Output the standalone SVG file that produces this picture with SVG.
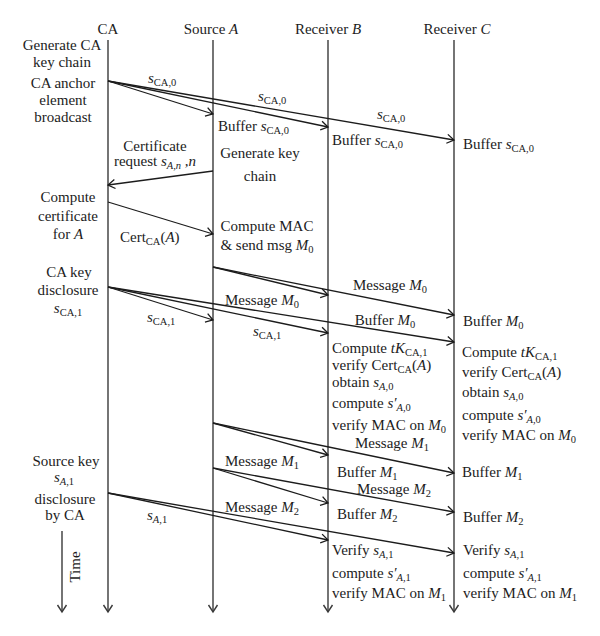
<svg xmlns="http://www.w3.org/2000/svg" width="600" height="636" viewBox="0 0 600 636">
<style>
text { font-family: "Liberation Serif", "Times New Roman", serif; font-size: 15px; fill: #1c1c1c; }
.m { text-anchor: middle; }
.i { font-style: italic; }
.s { font-size: 10.5px; }
.life { stroke: #3a3a3a; stroke-width: 1.4; fill: none; }
.msg { stroke: #1c1c1c; stroke-width: 1.3; fill: none; marker-end: url(#ah); }
</style>
<defs>
<marker id="ah" markerUnits="userSpaceOnUse" markerWidth="12" markerHeight="12" viewBox="-9 -6 12 12" refX="0" refY="0" orient="auto">
<path d="M-7,-4.5 L0,0 L-7,4.5" fill="none" stroke="#1c1c1c" stroke-width="1.3"/>
</marker>
<marker id="ahd" markerUnits="userSpaceOnUse" markerWidth="12" markerHeight="12" viewBox="-9 -6 12 12" refX="0" refY="0" orient="auto">
<path d="M-7,-4.5 L0,0 L-7,4.5" fill="none" stroke="#3a3a3a" stroke-width="1.4"/>
</marker>
</defs>
<rect width="600" height="636" fill="#fff"/>

<g id="ca">
<text class="m" x="108" y="34">CA</text>
<line class="life" x1="108" y1="40" x2="108" y2="612" marker-end="url(#ahd)"/>
</g>
<g id="source-a">
<text class="m" x="211" y="34">Source <tspan class="i">A</tspan></text>
<line class="life" x1="213" y1="40" x2="213" y2="612" marker-end="url(#ahd)"/>
</g>
<g id="receiver-b">
<text class="m" x="328" y="34">Receiver <tspan class="i">B</tspan></text>
<line class="life" x1="328" y1="40" x2="328" y2="612" marker-end="url(#ahd)"/>
</g>
<g id="receiver-c">
<text class="m" x="457" y="34">Receiver <tspan class="i">C</tspan></text>
<line class="life" x1="454" y1="40" x2="454" y2="612" marker-end="url(#ahd)"/>
</g>

<g id="ca-notes">
<text class="m" x="62" y="50">Generate CA</text>
<text class="m" x="62" y="67">key chain</text>
<text class="m" x="63" y="88">CA anchor</text>
<text class="m" x="63" y="105">element</text>
<text class="m" x="63" y="122">broadcast</text>
<text class="m" x="68" y="202">Compute</text>
<text class="m" x="68" y="221">certificate</text>
<text class="m" x="68" y="239">for <tspan class="i">A</tspan></text>
<text class="m" x="69" y="277">CA key</text>
<text class="m" x="68" y="295">disclosure</text>
<text class="m" x="68" y="313"><tspan class="i">s</tspan><tspan class="s" dy="3">CA,1</tspan></text>
<text class="m" x="66" y="466">Source key</text>
<text class="m" x="64" y="482"><tspan class="i">s</tspan><tspan class="s" dy="3"><tspan class="i">A</tspan>,1</tspan></text>
<text class="m" x="65" y="504">disclosure</text>
<text class="m" x="65" y="520">by CA</text>
</g>

<g id="time">
<line class="life" x1="62" y1="531" x2="62" y2="612" marker-end="url(#ahd)"/>
<text class="m" transform="translate(80,567) rotate(-90)">Time</text>
</g>

<g id="source-a-notes">
<text x="218" y="131">Buffer <tspan class="i">s</tspan><tspan class="s" dy="3">CA,0</tspan></text>
<text class="m" x="260" y="158">Generate key</text>
<text class="m" x="260" y="181">chain</text>
<text class="m" x="267" y="231">Compute MAC</text>
<text class="m" x="267" y="250">&amp; send msg <tspan class="i">M</tspan><tspan class="s" dy="3">0</tspan></text>
</g>

<g id="receiver-b-notes">
<text x="332" y="145">Buffer <tspan class="i">s</tspan><tspan class="s" dy="3">CA,0</tspan></text>
<text class="m" x="385" y="325">Buffer <tspan class="i">M</tspan><tspan class="s" dy="3">0</tspan></text>
<text x="332" y="353">Compute <tspan class="i">tK</tspan><tspan class="s" dy="3">CA,1</tspan></text>
<text x="332" y="370">verify Cert<tspan class="s" dy="3">CA</tspan><tspan dy="-3">(</tspan><tspan class="i">A</tspan>)</text>
<text x="332" y="387">obtain <tspan class="i">s</tspan><tspan class="s" dy="3"><tspan class="i">A</tspan>,0</tspan></text>
<text x="332" y="408">compute <tspan class="i">s′</tspan><tspan class="s" dy="3"><tspan class="i">A</tspan>,0</tspan></text>
<text x="332" y="430">verify MAC on <tspan class="i">M</tspan><tspan class="s" dy="3">0</tspan></text>
<text x="337" y="477">Buffer <tspan class="i">M</tspan><tspan class="s" dy="3">1</tspan></text>
<text x="337" y="519">Buffer <tspan class="i">M</tspan><tspan class="s" dy="3">2</tspan></text>
<text x="332" y="555">Verify <tspan class="i">s</tspan><tspan class="s" dy="3"><tspan class="i">A</tspan>,1</tspan></text>
<text x="332" y="578">compute <tspan class="i">s′</tspan><tspan class="s" dy="3"><tspan class="i">A</tspan>,1</tspan></text>
<text x="332" y="598">verify MAC on <tspan class="i">M</tspan><tspan class="s" dy="3">1</tspan></text>
</g>

<g id="receiver-c-notes">
<text x="463" y="149">Buffer <tspan class="i">s</tspan><tspan class="s" dy="3">CA,0</tspan></text>
<text x="463" y="326">Buffer <tspan class="i">M</tspan><tspan class="s" dy="3">0</tspan></text>
<text x="462" y="357">Compute <tspan class="i">tK</tspan><tspan class="s" dy="3">CA,1</tspan></text>
<text x="462" y="377">verify Cert<tspan class="s" dy="3">CA</tspan><tspan dy="-3">(</tspan><tspan class="i">A</tspan>)</text>
<text x="462" y="397">obtain <tspan class="i">s</tspan><tspan class="s" dy="3"><tspan class="i">A</tspan>,0</tspan></text>
<text x="462" y="420">compute <tspan class="i">s′</tspan><tspan class="s" dy="3"><tspan class="i">A</tspan>,0</tspan></text>
<text x="462" y="440">verify MAC on <tspan class="i">M</tspan><tspan class="s" dy="3">0</tspan></text>
<text x="462" y="477">Buffer <tspan class="i">M</tspan><tspan class="s" dy="3">1</tspan></text>
<text x="463" y="522">Buffer <tspan class="i">M</tspan><tspan class="s" dy="3">2</tspan></text>
<text x="463" y="555">Verify <tspan class="i">s</tspan><tspan class="s" dy="3"><tspan class="i">A</tspan>,1</tspan></text>
<text x="463" y="578">compute <tspan class="i">s′</tspan><tspan class="s" dy="3"><tspan class="i">A</tspan>,1</tspan></text>
<text x="463" y="598">verify MAC on <tspan class="i">M</tspan><tspan class="s" dy="3">1</tspan></text>
</g>

<g id="connectors">
<line class="msg" x1="108" y1="81" x2="213" y2="114"/>
<line class="msg" x1="108" y1="81" x2="328" y2="127"/>
<line class="msg" x1="108" y1="81" x2="454" y2="140"/>
<line class="msg" x1="213" y1="171" x2="108" y2="185"/>
<line class="msg" x1="108" y1="202" x2="213" y2="234"/>
<line class="msg" x1="213" y1="267" x2="328" y2="295"/>
<line class="msg" x1="213" y1="267" x2="454" y2="315"/>
<line class="msg" x1="108" y1="287" x2="213" y2="320"/>
<line class="msg" x1="108" y1="287" x2="328" y2="333"/>
<line class="msg" x1="108" y1="287" x2="454" y2="342"/>
<line class="msg" x1="213" y1="423" x2="328" y2="455"/>
<line class="msg" x1="213" y1="423" x2="454" y2="473"/>
<line class="msg" x1="213" y1="468" x2="328" y2="503"/>
<line class="msg" x1="213" y1="468" x2="454" y2="512"/>
<line class="msg" x1="108" y1="493" x2="328" y2="540"/>
<line class="msg" x1="108" y1="493" x2="454" y2="553"/>
</g>

<g id="connector-labels">
<text x="148" y="83"><tspan class="i">s</tspan><tspan class="s" dy="3">CA,0</tspan></text>
<text x="258" y="101"><tspan class="i">s</tspan><tspan class="s" dy="3">CA,0</tspan></text>
<text x="377" y="119"><tspan class="i">s</tspan><tspan class="s" dy="3">CA,0</tspan></text>
<text class="m" x="155" y="151">Certificate</text>
<text class="m" x="155" y="166">request <tspan class="i">s</tspan><tspan class="s i" dy="3">A,n</tspan><tspan class="i" dy="-3"> ,n</tspan></text>
<text x="120" y="242">Cert<tspan class="s" dy="3">CA</tspan><tspan dy="-3">(</tspan><tspan class="i">A</tspan>)</text>
<text x="353" y="290">Message <tspan class="i">M</tspan><tspan class="s" dy="3">0</tspan></text>
<text x="225" y="305">Message <tspan class="i">M</tspan><tspan class="s" dy="3">0</tspan></text>
<text x="147" y="322"><tspan class="i">s</tspan><tspan class="s" dy="3">CA,1</tspan></text>
<text x="253" y="336"><tspan class="i">s</tspan><tspan class="s" dy="3">CA,1</tspan></text>
<text class="m" x="392" y="448">Message <tspan class="i">M</tspan><tspan class="s" dy="3">1</tspan></text>
<text x="225" y="466">Message <tspan class="i">M</tspan><tspan class="s" dy="3">1</tspan></text>
<text x="357" y="494">Message <tspan class="i">M</tspan><tspan class="s" dy="3">2</tspan></text>
<text x="225" y="512">Message <tspan class="i">M</tspan><tspan class="s" dy="3">2</tspan></text>
<text x="147" y="520"><tspan class="i">s</tspan><tspan class="s" dy="3"><tspan class="i">A</tspan>,1</tspan></text>
</g>
</svg>
